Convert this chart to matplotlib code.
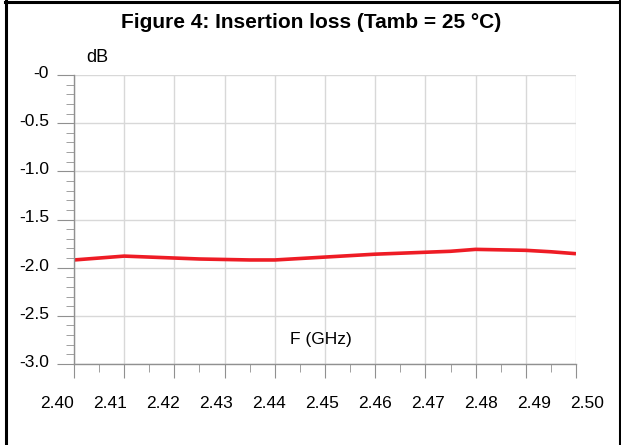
import numpy as np
import matplotlib.pyplot as plt
from matplotlib.lines import Line2D
from matplotlib.ticker import MultipleLocator
from matplotlib.transforms import ScaledTranslation

# insertion loss
freq_ghz = [2.400, 2.405, 2.410, 2.415, 2.420, 2.425, 2.430, 2.435, 2.440,
            2.445, 2.450, 2.455, 2.460, 2.465, 2.470, 2.475, 2.480, 2.485,
            2.490, 2.495, 2.500]
loss_db = [-1.92, -1.90, -1.88, -1.89, -1.90, -1.91, -1.915, -1.92, -1.92,
           -1.905, -1.89, -1.875, -1.86, -1.85, -1.84, -1.83, -1.81, -1.815,
           -1.82, -1.835, -1.855]

x_ticks = [2.40, 2.41, 2.42, 2.43, 2.44, 2.45, 2.46, 2.47, 2.48, 2.49, 2.50]
y_ticks = [0, -0.5, -1.0, -1.5, -2.0, -2.5, -3.0]
y_labels = ['-0', '-0.5', '-1.0', '-1.5', '-2.0', '-2.5', '-3.0']

plt.rcParams['font.family'] = ['Liberation Sans', 'DejaVu Sans']

W, H = 621, 445
fig = plt.figure(figsize=(W / 100, H / 100), dpi=100)

# outer frame (top, left, right)
fig.add_artist(Line2D([5 / W, 1], [1 - 1.5 / H, 1 - 1.5 / H], color='black',
                      lw=2.2, transform=fig.transFigure))
fig.add_artist(Line2D([6 / W, 6 / W], [0, 1], color='black', lw=2.2,
                      transform=fig.transFigure))
fig.add_artist(Line2D([619.5 / W, 619.5 / W], [0, 1], color='black', lw=2.2,
                      transform=fig.transFigure))

fig.text(311 / W, 1 - 22 / H, 'Figure 4: Insertion loss (Tamb = 25 °C)',
         ha='center', va='center', fontsize=15, fontweight='bold')

ax = fig.add_axes([74 / W, 81 / H, (576 - 74) / W, (364 - 75) / H])
ax.plot(freq_ghz, loss_db, color='#ee1c25', lw=2.6, solid_capstyle='butt')

ax.set_xlim(2.40, 2.50)
ax.set_ylim(-3.0, 0)
ax.set_xticks(x_ticks)
ax.set_xticklabels([])
ax.set_yticks(y_ticks)
ax.set_yticklabels(y_labels)
ax.xaxis.set_minor_locator(MultipleLocator(0.005))
ax.yaxis.set_minor_locator(MultipleLocator(0.1))

ax.grid(True, which='major', color='#d8d8d8', lw=1)
ax.set_axisbelow(True)
for side in ['top', 'right']:
    ax.spines[side].set_visible(False)
for side in ['left', 'bottom']:
    ax.spines[side].set_color('#909090')
    ax.spines[side].set_linewidth(1)

ax.tick_params(axis='both', which='both', color='#909090', labelsize=12.5)
ax.tick_params(axis='x', which='major', length=10)
ax.tick_params(axis='x', which='minor', length=6)
ax.tick_params(axis='y', which='major', length=12, pad=6)
ax.tick_params(axis='y', which='minor', length=6)

# y labels sit a little above their ticks in the original
for lab in ax.get_yticklabels():
    lab.set_transform(lab.get_transform()
                      + ScaledTranslation(0, 3 / 100, fig.dpi_scale_trans))

# x labels in the original are spread slightly wider than the ticks
for i, v in enumerate(x_ticks):
    dx = -17 + 2.8 * i
    tr = ax.get_xaxis_transform() + ScaledTranslation(dx / 100, -39 / 100,
                                                      fig.dpi_scale_trans)
    ax.text(v, 0, '%.2f' % v, transform=tr, ha='center', va='center',
            fontsize=12.5, clip_on=False)

fig.text(97 / W, 1 - 58 / H, 'dB', ha='center', va='center', fontsize=13)
ax.text(2.4492, -2.75, 'F (GHz)', ha='center', va='center', fontsize=12.5)

fig.savefig('out.png', dpi=100)
